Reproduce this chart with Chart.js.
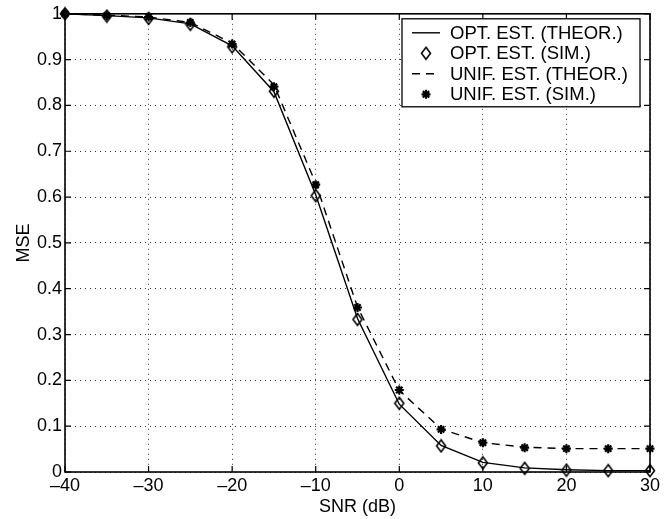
<!DOCTYPE html>
<html>
<head>
<meta charset="utf-8">
<script src="https://cdn.jsdelivr.net/npm/chart.js@4.4.0/dist/chart.umd.min.js"></script>
<style>
  html, body { margin: 0; padding: 0; background: #fff; }
</style>
</head>
<body>
<canvas id="mse" width="668" height="519"></canvas>
<script>
const snr = [-40, -35, -30, -25, -20, -15, -10, -5, 0, 5, 10, 15, 20, 25, 30];
const optTheor = [1.0, 0.996, 0.991, 0.978, 0.930, 0.830, 0.605, 0.335, 0.148, 0.058, 0.021, 0.009, 0.005, 0.003, 0.003];
const optSim = [1.0, 0.995, 0.990, 0.977, 0.928, 0.831, 0.603, 0.333, 0.150, 0.057, 0.020, 0.008, 0.004, 0.003, 0.003];
const unifTheor = [1.0, 0.997, 0.993, 0.981, 0.936, 0.845, 0.630, 0.360, 0.178, 0.094, 0.064, 0.054, 0.051, 0.051, 0.051];
const unifSim = [1.0, 0.996, 0.993, 0.981, 0.934, 0.841, 0.627, 0.359, 0.179, 0.093, 0.064, 0.053, 0.051, 0.051, 0.051];
const xTicks = [-40, -30, -20, -10, 0, 10, 20, 30];
const yTicks = [0, 0.1, 0.2, 0.3, 0.4, 0.5, 0.6, 0.7, 0.8, 0.9, 1];

const FONT = 'Liberation Sans, Arial, Helvetica, sans-serif';

// open diamond marker, a bit taller than wide
function diamond() {
    const c = document.createElement('canvas');
    c.width = 12; c.height = 15;
    const g = c.getContext('2d');
    g.strokeStyle = '#000';
    g.lineWidth = 1.6;
    g.beginPath();
    g.moveTo(6, 1.5); g.lineTo(10.5, 7.5); g.lineTo(6, 13.5); g.lineTo(1.5, 7.5);
    g.closePath();
    g.stroke();
    return c;
}
const diamondImg = diamond();

const pts = ys => snr.map((x, i) => ({x: x, y: ys[i]}));

// box round the plot with inward tick marks
const axisBox = {
    id: 'axisBox',
    beforeDatasetsDraw(chart) {
        const {ctx, chartArea: a, scales} = chart;
        const len = 6;
        ctx.save();
        ctx.strokeStyle = '#000';
        ctx.lineWidth = 1.6;
        ctx.strokeRect(a.left, a.top, a.right - a.left, a.bottom - a.top);
        ctx.lineWidth = 1.2;
        ctx.beginPath();
        xTicks.forEach(v => {
            const px = scales.x.getPixelForValue(v);
            ctx.moveTo(px, a.bottom); ctx.lineTo(px, a.bottom - len);
            ctx.moveTo(px, a.top); ctx.lineTo(px, a.top + len);
        });
        yTicks.forEach(v => {
            const py = scales.y.getPixelForValue(v);
            ctx.moveTo(a.left, py); ctx.lineTo(a.left + len, py);
            ctx.moveTo(a.right, py); ctx.lineTo(a.right - len, py);
        });
        ctx.stroke();
        ctx.restore();
    }
};

// legend drawn inside the plot, top right
const innerLegend = {
    id: 'innerLegend',
    afterDraw(chart) {
        const {ctx, chartArea: a} = chart;
        const w = 238, rowH = 20.5, h = 88;
        const x0 = a.right - 10 - w, y0 = a.top + 5;
        ctx.save();
        ctx.fillStyle = '#fff';
        ctx.fillRect(x0, y0, w, h);
        ctx.strokeStyle = '#000';
        ctx.lineWidth = 1.3;
        ctx.strokeRect(x0, y0, w, h);
        ctx.font = '18.5px ' + FONT;
        ctx.textBaseline = 'middle';
        ctx.fillStyle = '#000';
        chart.data.datasets.forEach((ds, i) => {
            const cy = y0 + 14 + i * rowH;
            const sx = x0 + 10, ex = x0 + 38;
            if (ds.showLine) {
                ctx.save();
                ctx.lineWidth = ds.borderWidth;
                ctx.strokeStyle = ds.borderColor;
                ctx.setLineDash(ds.borderDash || []);
                ctx.beginPath();
                ctx.moveTo(sx, cy); ctx.lineTo(ex, cy);
                ctx.stroke();
                ctx.restore();
            } else {
                ctx.save();
                ctx.strokeStyle = '#000';
                ctx.lineWidth = ds.pointBorderWidth;
                Chart.helpers.drawPoint(ctx, {
                    pointStyle: ds.pointStyle,
                    radius: ds.pointRadius,
                    borderWidth: ds.pointBorderWidth
                }, (sx + ex) / 2, cy);
                ctx.restore();
            }
            ctx.fillText(ds.label, x0 + 48, cy + 1);
        });
        ctx.restore();
    }
};

new Chart(document.getElementById('mse'), {
    type: 'scatter',
    data: {
        datasets: [
            {
                label: 'OPT. EST. (THEOR.)',
                data: pts(optTheor),
                showLine: true,
                borderColor: '#000',
                borderWidth: 1.4,
                pointRadius: 0,
                clip: false
            },
            {
                label: 'OPT. EST. (SIM.)',
                data: pts(optSim),
                showLine: false,
                pointStyle: diamondImg,
                pointRadius: 6,
                pointBorderWidth: 1.6,
                clip: false
            },
            {
                label: 'UNIF. EST. (THEOR.)',
                data: pts(unifTheor),
                showLine: true,
                borderColor: '#000',
                borderWidth: 1.4,
                borderDash: [8, 6],
                pointRadius: 0,
                clip: false
            },
            {
                label: 'UNIF. EST. (SIM.)',
                data: pts(unifSim),
                showLine: false,
                pointStyle: 'star',
                pointRadius: 4.5,
                pointBorderWidth: 2.2,
                borderColor: '#000',
                backgroundColor: '#000',
                clip: false
            }
        ]
    },
    options: {
        responsive: false,
        animation: false,
        events: [],
        layout: {padding: {top: 13, right: 18, left: 0, bottom: 0}},
        plugins: {
            legend: {display: false},
            tooltip: {enabled: false}
        },
        scales: {
            x: {
                type: 'linear',
                min: -40, max: 30,
                afterBuildTicks: s => { s.ticks = xTicks.map(v => ({value: v})); },
                afterFit: s => { s.height = 47; },
                ticks: {
                    color: '#000',
                    padding: 3,
                    font: {family: FONT, size: 18},
                    callback: v => v < 0 ? '\u2013' + Math.abs(v) : String(v)
                },
                grid: {color: '#333', lineWidth: 1, drawTicks: false},
                border: {display: false, dash: [1, 4]},
                title: {
                    display: true,
                    text: 'SNR (dB)',
                    color: '#000',
                    padding: {top: 0, bottom: 1},
                    font: {family: FONT, size: 18}
                }
            },
            y: {
                type: 'linear',
                min: 0, max: 1,
                afterBuildTicks: s => { s.ticks = yTicks.map(v => ({value: v})); },
                afterFit: s => { s.width = 65; },
                ticks: {
                    color: '#000',
                    padding: 3,
                    font: {family: FONT, size: 18},
                    callback: v => String(Math.round(v * 10) / 10)
                },
                grid: {color: '#333', lineWidth: 1, drawTicks: false},
                border: {display: false, dash: [1, 4]},
                title: {
                    display: true,
                    text: 'MSE',
                    color: '#000',
                    padding: {top: 13, bottom: 0},
                    font: {family: FONT, size: 18}
                }
            }
        }
    },
    plugins: [axisBox, innerLegend]
});
</script>
</body>
</html>
